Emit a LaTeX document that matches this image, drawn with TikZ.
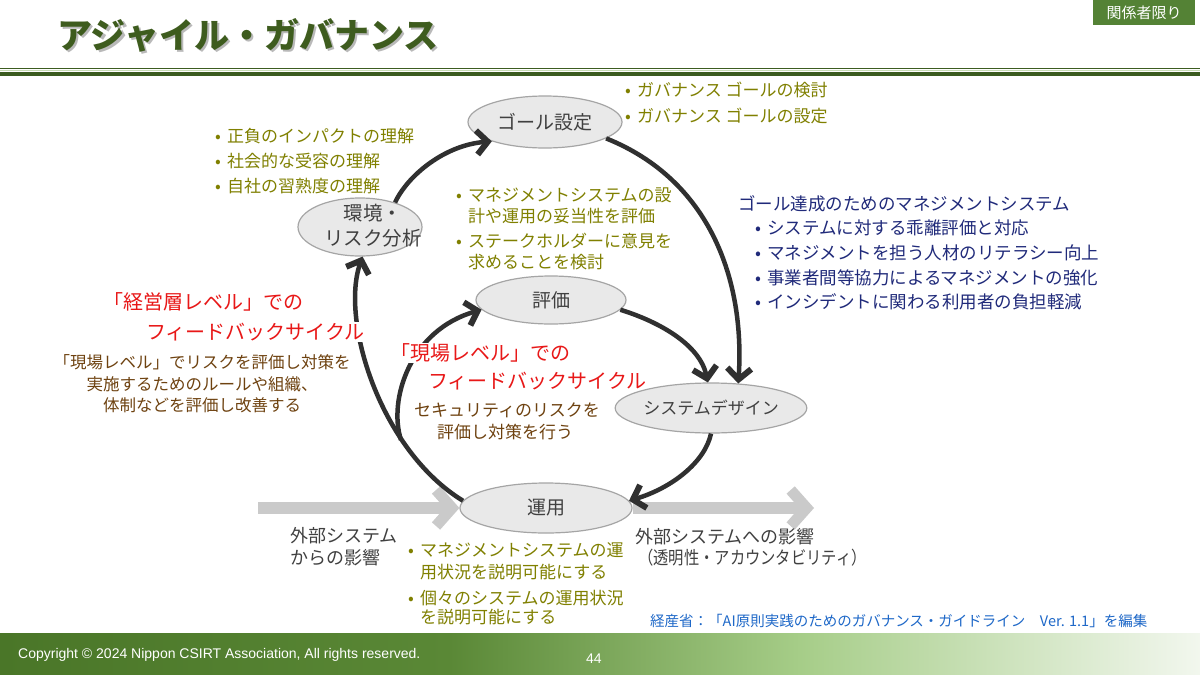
\documentclass[tikz,border=0pt]{standalone}
\usepackage{fontspec}
\setmainfont{Noto Sans CJK JP}
\newfontfamily\latinfont{Liberation Sans}
\usetikzlibrary{shapes.geometric,arrows.meta}
\definecolor{ttlgreen}{RGB}{62,92,30}
\definecolor{linegreen}{RGB}{60,92,32}
\definecolor{paleline}{RGB}{200,220,180}
\definecolor{badgegreen}{RGB}{84,130,53}
\definecolor{olivetxt}{RGB}{128,128,0}
\definecolor{navytxt}{RGB}{32,42,122}
\definecolor{redtxt}{RGB}{232,24,24}
\definecolor{browntxt}{RGB}{110,66,16}
\definecolor{graytxt}{RGB}{64,64,64}
\definecolor{srcblue}{RGB}{30,104,200}
\definecolor{ellfill}{RGB}{233,233,233}
\definecolor{elldraw}{RGB}{165,165,165}
\definecolor{arrgray}{RGB}{48,48,48}
\definecolor{widegray}{RGB}{202,202,202}
\definecolor{footA}{RGB}{74,118,40}
\definecolor{footB}{RGB}{90,136,54}
\definecolor{footC}{RGB}{166,205,136}
\definecolor{footD}{RGB}{242,247,238}
\newcommand\blt{\makebox[12pt][l]{•}}
\begin{document}
\begin{tikzpicture}[x=1pt,y=-1pt,
  ell/.style={ellipse, draw=elldraw, fill=ellfill, line width=1.2pt, inner sep=0pt, text=graytxt, font=\fontsize{19}{22}\selectfont},
  arr/.style={draw=arrgray, line width=4.5pt, -{Straight Barb[length=11pt,width=24pt,line width=6pt]}},
  garr/.style={draw=widegray, line width=12pt, -{Straight Barb[length=16pt,width=36pt,line width=11pt]}},
  tl/.style={anchor=west, inner sep=0pt},
  tc/.style={anchor=center, inner sep=0pt},
  olv/.style={text=olivetxt, font=\fontsize{17}{20}\selectfont},
  nvy/.style={text=navytxt, font=\fontsize{17.5}{20}\selectfont},
  rdt/.style={text=redtxt, font=\fontsize{20}{24}\selectfont},
  brn/.style={text=browntxt, font=\fontsize{16.5}{20}\selectfont},
  gry/.style={text=graytxt, font=\fontsize{18}{22}\selectfont}]
\useasboundingbox (0,0) rectangle (1200,675);
\fill[white] (0,0) rectangle (1200,675);
% header lines
\draw[linegreen, line width=1.3pt] (0,68.5) -- (1200,68.5);
\draw[paleline, line width=1.5pt] (0,70.7) -- (1200,70.7);
\draw[linegreen, line width=4pt] (0,73.8) -- (1200,73.8);
% footer
\shade[left color=footA, right color=footB] (0,633) rectangle (450,675);
\shade[left color=footB, right color=footC] (449.5,633) rectangle (800,675);
\shade[left color=footC, right color=footD] (799.5,633) rectangle (1200,675);
% title
\node[tl, text=gray!55, font=\fontsize{35}{40}\selectfont\bfseries] (titleshadow) at (59.5,37.5) {アジャイル・ガバナンス};
\node[tl, text=ttlgreen, font=\fontsize{35}{40}\selectfont\bfseries] (title) at (57,35) {アジャイル・ガバナンス};
% badge
\node[fill=badgegreen, minimum width=102, minimum height=25, inner sep=0pt, text=white, font=\fontsize{15}{18}\selectfont] (badge) at (1144,12.5) {関係者限り};
% ellipses
\node[ell, minimum width=154, minimum height=52] (goal) at (545,122) {ゴール設定};
\node[ell, minimum width=124, minimum height=58] (env) at (360,227) {};
\node[tc, align=center, text=graytxt, font=\fontsize{19.5}{25}\selectfont] (envtxt) at (373,226) {環境・\\リスク分析};
\node[ell, minimum width=150, minimum height=48] (eval) at (551,300) {評価};
\node[ell, minimum width=146, minimum height=50, font=\fontsize{17}{20}\selectfont] (sys) at (711,408) {システムデザイン};
\node[ell, minimum width=172, minimum height=50] (ops) at (546,508) {運用};
% wide gray arrows
\coordinate (extin) at (258,508);
\coordinate (extout) at (814,508);
\draw[garr] (extin) -- (ops.west);
\draw[garr] (ops.east) -- (extout);
% dark arrows
\coordinate (split) at (401,440);
\draw[arr] (env.35) .. controls (408,175) and (445,145) .. (goal.200);
\draw[arr] (goal.-15) .. controls (710,180) and (745,280) .. (sys.42);
\draw[arr] (eval.-8) .. controls (660,322) and (700,345) .. (sys.97);
\draw[arr] (sys.-90) .. controls (705,462) and (672,488) .. (ops.5);
\draw[arr] (ops.175) .. controls (380,450) and (340,320) .. (env.-85);
\draw[arr] (split) .. controls (388,400) and (410,330) .. (eval.188);
% top right bullets
\node[tl, olv] (tr1) at (625,90) {\blt ガバナンス ゴールの検討};
\node[tl, olv] (tr2) at (625,116) {\blt ガバナンス ゴールの設定};
% left top bullets
\node[tl, olv] (lt1) at (215,136) {\blt 正負のインパクトの理解};
\node[tl, olv] (lt2) at (215,161) {\blt 社会的な受容の理解};
\node[tl, olv] (lt3) at (215,186) {\blt 自社の習熟度の理解};
% middle bullets
\node[tl, olv] (mb1) at (456,195) {\blt マネジメントシステムの設};
\node[tl, olv] (mb2) at (468,216) {計や運用の妥当性を評価};
\node[tl, olv] (mb3) at (456,241) {\blt ステークホルダーに意見を};
\node[tl, olv] (mb4) at (468,262) {求めることを検討};
% blue block
\node[tl, nvy] (bh) at (738,204) {ゴール達成のためのマネジメントシステム};
\node[tl, nvy] (b1) at (755,228) {\blt システムに対する乖離評価と対応};
\node[tl, nvy] (b2) at (755,253) {\blt マネジメントを担う人材のリテラシー向上};
\node[tl, nvy] (b3) at (755,278) {\blt 事業者間等協力によるマネジメントの強化};
\node[tl, nvy] (b4) at (755,302) {\blt インシデントに関わる利用者の負担軽減};
% red left
\node[tl, rdt] (rl1) at (103,302) {「経営層レベル」での};
\node[tl, rdt, fill=white, inner sep=1pt] (rl2) at (145,332) {フィードバックサイクル};
% brown left
\node[tc, brn] (bl1) at (202,362) {「現場レベル」でリスクを評価し対策を};
\node[tc, brn] (bl2) at (202,384) {実施するためのルールや組織、};
\node[tc, brn] (bl3) at (202,405) {体制などを評価し改善する};
% red middle
\node[tl, rdt, fill=white, inner sep=1pt] (rm1) at (389,353) {「現場レベル」での};
\node[tl, rdt] (rm2) at (428,381) {フィードバックサイクル};
% brown middle
\node[tc, brn, font=\fontsize{17}{20}\selectfont] (bm1) at (507,410) {セキュリティのリスクを};
\node[tc, brn, font=\fontsize{17}{20}\selectfont] (bm2) at (505,432) {評価し対策を行う};
% gray external labels
\node[tl, gry] (ex1) at (290,536) {外部システム};
\node[tl, gry] (ex2) at (290,558) {からの影響};
\node[tl, gry] (ex3) at (635,537) {外部システムへの影響};
\node[tl, gry] (ex4) at (638,558) {\scalebox{0.85}[1]{（透明性・アカウンタビリティ）}};
% bottom olive bullets
\node[tl, olv] (ob1) at (408,550) {\blt マネジメントシステムの運};
\node[tl, olv] (ob2) at (420,572) {用状況を説明可能にする};
\node[tl, olv] (ob3) at (408,598) {\blt 個々のシステムの運用状況};
\node[tl, olv] (ob4) at (420,617) {を説明可能にする};
% source
\node[tl, text=srcblue, font=\fontsize{14.5}{17}\selectfont] (src) at (650,621) {経産省：「AI原則実践のためのガバナンス・ガイドライン　Ver. 1.1」を編集};
% footer text
\node[tl, text=white, font=\latinfont\fontsize{14}{16}\selectfont] (copy) at (18,655) {Copyright © 2024 Nippon CSIRT Association, All rights reserved.};
\node[tl, text=white, font=\latinfont\fontsize{14}{16}\selectfont] (pg) at (586,659) {44};
\end{tikzpicture}
\end{document}
